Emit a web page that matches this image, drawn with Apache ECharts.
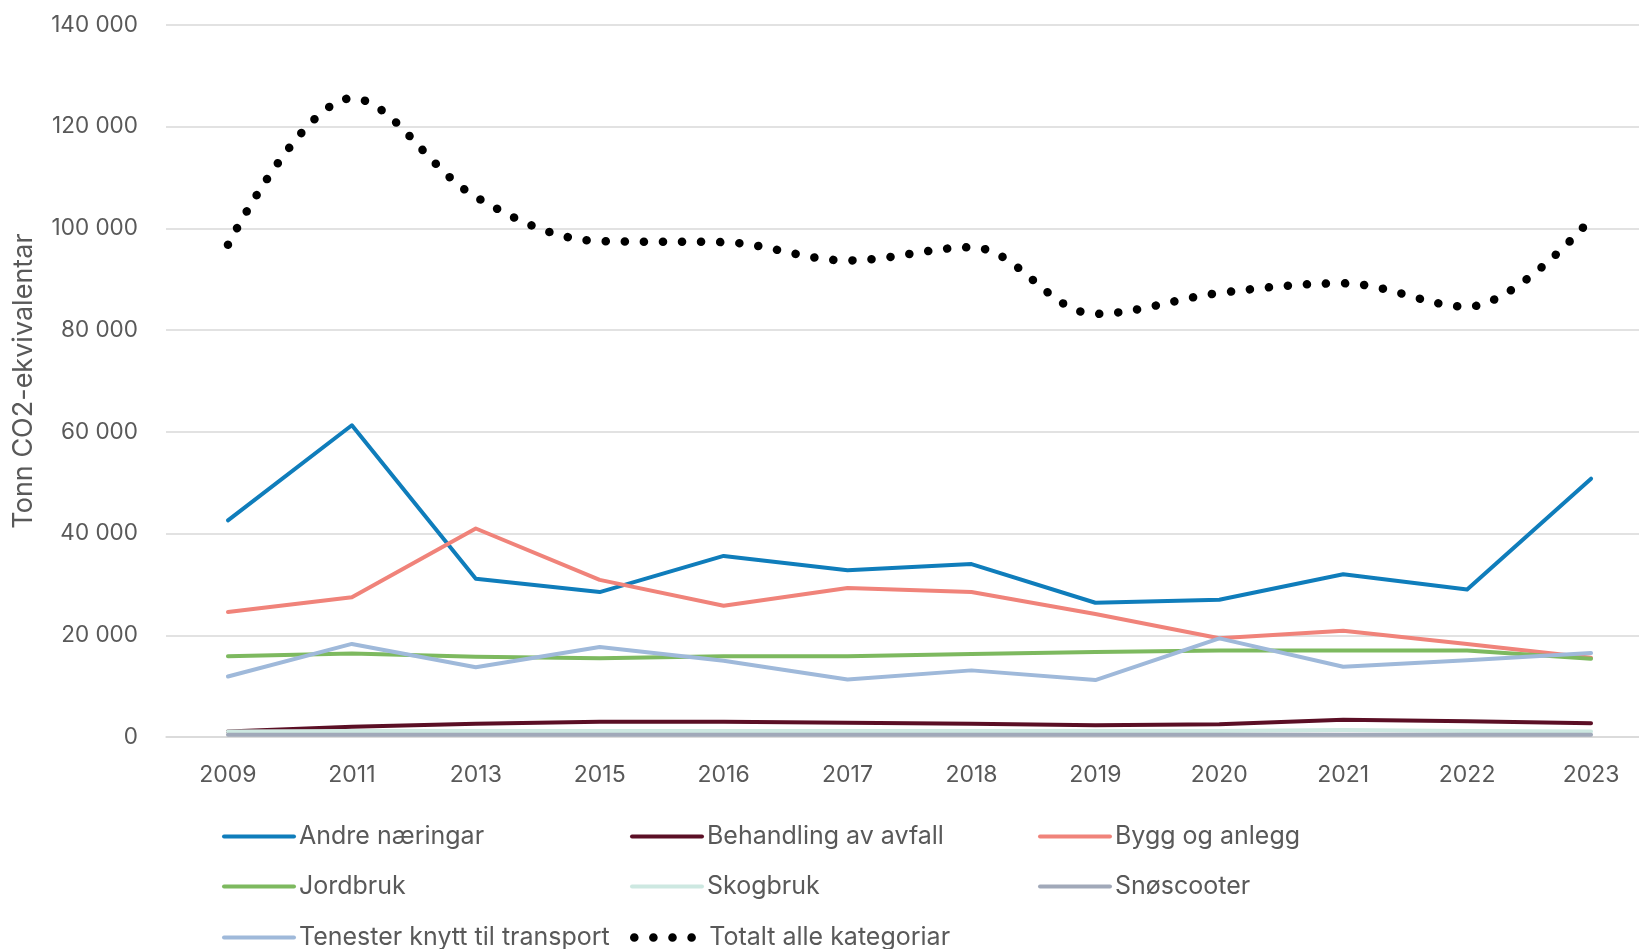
<!DOCTYPE html>
<html>
<head>
    <meta charset="utf-8">
    <script src="https://cdn.jsdelivr.net/npm/echarts@6/dist/echarts.min.js"></script>
    <style>
        html, body { margin: 0; padding: 0; background: #fff; }
    </style>
</head>
<body>
    <div id="main" style="width: 1639px;height:949px"></div>

    <script type="text/javascript">
        // data
        var years = ['2009', '2011', '2013', '2015', '2016', '2017', '2018', '2019', '2020', '2021', '2022', '2023'];
        var andreNaeringar = [42600, 61300, 31100, 28500, 35600, 32800, 34000, 26400, 27000, 32000, 29000, 50800];
        var behandlingAvfall = [1100, 2000, 2600, 3000, 3000, 2800, 2600, 2300, 2500, 3400, 3100, 2700];
        var byggAnlegg = [24600, 27500, 41000, 30900, 25800, 29300, 28500, 24200, 19400, 20900, 18300, 15600];
        var jordbruk = [15900, 16400, 15800, 15500, 15900, 15900, 16300, 16700, 17000, 17000, 17000, 15400];
        var skogbruk = [1100, 1200, 1200, 1200, 1200, 1200, 1200, 1200, 1200, 1400, 1200, 1100];
        var snoscooter = [450, 450, 450, 450, 450, 450, 450, 450, 450, 450, 450, 450];
        var tenester = [11900, 18300, 13700, 17700, 15000, 11300, 13100, 11200, 19400, 13800, 15100, 16500];
        var totalt = [96800, 125600, 106200, 97500, 97300, 93700, 96300, 83200, 87300, 89200, 84600, 101900];
        var yTicks = [0, 20000, 40000, 60000, 80000, 100000, 120000, 140000];

        var font = 'Inter, "Open Sans", sans-serif';
        var grey = '#595959';
        var dots = { width: 8.5, color: '#000', type: [0.1, 19], cap: 'round' };

        var myChart = echarts.init(document.getElementById('main'));

        var line = function (name, data, color) {
            return {
                name: name,
                type: 'line',
                data: data,
                symbol: 'none',
                color: color,
                lineStyle: { width: 4, color: color, cap: 'round', join: 'round' },
                emphasis: { disabled: true }
            };
        };

        // one legend per row, fixed text width so the columns line up
        var legendRow = function (top, data) {
            return {
                orient: 'horizontal',
                left: 222,
                top: top,
                padding: 0,
                itemWidth: 70,
                itemHeight: 20,
                itemGap: 0,
                itemStyle: { opacity: 0 },
                lineStyle: { width: 4 },
                textStyle: {
                    fontFamily: font, fontSize: 25, color: grey, lineHeight: 20,
                    width: 331, overflow: 'none'
                },
                data: data
            };
        };

        var option = {
            animation: false,
            grid: {
                left: 166,
                right: -14,
                top: 25,
                bottom: 212,
                outerBoundsMode: 'none'
            },
            legend: [
                legendRow(824, ['Andre næringar', 'Behandling av avfall', 'Bygg og anlegg']),
                legendRow(874, ['Jordbruk', 'Skogbruk', 'Snøscooter']),
                legendRow(925, ['Tenester knytt til transport', { name: 'Totalt alle kategoriar', lineStyle: dots }])
            ],
            xAxis: {
                type: 'category',
                data: years,
                boundaryGap: true,
                axisLine: { show: true, lineStyle: { color: '#d9d9d9', width: 1.5 } },
                axisTick: { show: false },
                axisLabel: { fontFamily: font, fontSize: 23, color: grey, margin: 27 }
            },
            yAxis: {
                type: 'value',
                min: yTicks[0],
                max: yTicks[yTicks.length - 1],
                interval: yTicks[1] - yTicks[0],
                name: 'Tonn CO2-ekvivalentar',
                nameLocation: 'middle',
                nameGap: 129,
                nameRotate: 90,
                nameTextStyle: { fontFamily: font, fontSize: 27, color: grey },
                axisLine: { show: false },
                axisTick: { show: false },
                axisLabel: {
                    fontFamily: font, fontSize: 22.5, color: grey, margin: 28,
                    formatter: function (v) {
                        return String(v).replace(/\B(?=(\d{3})+(?!\d))/g, ' ');
                    }
                },
                splitLine: { lineStyle: { color: '#d9d9d9', width: 1.5 } }
            },
            series: [
                line('Andre næringar', andreNaeringar, '#0F7DBB'),
                line('Behandling av avfall', behandlingAvfall, '#5B0F25'),
                line('Bygg og anlegg', byggAnlegg, '#F0837A'),
                line('Jordbruk', jordbruk, '#7DB95F'),
                line('Skogbruk', skogbruk, '#CDE8E1'),
                line('Snøscooter', snoscooter, '#A1A9B9'),
                line('Tenester knytt til transport', tenester, '#9FB9DA'),
                {
                    name: 'Totalt alle kategoriar',
                    type: 'line',
                    data: totalt,
                    symbol: 'none',
                    smooth: 0.35,
                    color: '#000',
                    lineStyle: dots,
                    emphasis: { disabled: true }
                }
            ]
        };

        myChart.setOption(option);
    </script>
</body>
</html>
